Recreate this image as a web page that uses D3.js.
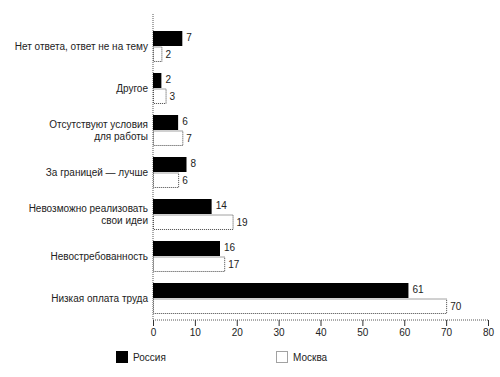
<!DOCTYPE html>
<html>
<head>
<meta charset="utf-8">
<script src="https://cdn.jsdelivr.net/npm/d3@7"></script>
<style>
  body { margin: 0; background: #fff; }
  text { font-family: "Liberation Sans", Arial, sans-serif; font-size: 10px; fill: #222; }
</style>
</head>
<body>
<div id="chart"></div>
<script>
const categories = [
    ["Нет ответа, ответ не на тему"],
    ["Другое"],
    ["Отсутствуют условия", "для работы"],
    ["За границей — лучше"],
    ["Невозможно реализовать", "свои идеи"],
    ["Невостребованность"],
    ["Низкая оплата труда"]
];
const russia = [7, 2, 6, 8, 14, 16, 61];
const moscow = [2, 3, 7, 6, 19, 17, 70];
const ticks = [0, 10, 20, 30, 40, 50, 60, 70, 80];
const seriesNames = ["Россия", "Москва"];

const width = 500, height = 377;

const svg = d3.select("#chart").append("svg")
    .attr("width", width)
    .attr("height", height);

const x = d3.scaleLinear()
    .domain([0, 80])
    .range([153, 488]);

const y = d3.scaleBand()
    .domain(categories.map((d, i) => i))
    .range([31, 314])
    .paddingInner(0.262)
    .paddingOuter(0);

const barH = y.bandwidth() / 2;

// y axis (dotted)
svg.append("line")
    .attr("x1", x(0)).attr("x2", x(0))
    .attr("y1", 14).attr("y2", 320)
    .attr("stroke", "#555")
    .attr("stroke-dasharray", "1,1");

// x axis
const axisY = 320;
svg.append("line")
    .attr("x1", x(0)).attr("x2", x(80))
    .attr("y1", axisY).attr("y2", axisY)
    .attr("stroke", "#555")
    .attr("stroke-dasharray", "1,1");

const xAxis = svg.append("g")
    .attr("transform", `translate(0,${axisY})`)
    .call(d3.axisBottom(x).tickValues(ticks).tickSize(6).tickPadding(3));
xAxis.select(".domain").remove();
xAxis.selectAll("line").attr("stroke", "#333");
xAxis.selectAll("text")
    .style("font-family", "'Liberation Sans', Arial, sans-serif")
    .style("font-size", "10px")
    .attr("fill", "#222");

// category labels
categories.forEach((lines, i) => {
    const cy = y(i) + barH;
    const t = svg.append("text")
        .attr("x", 148)
        .attr("text-anchor", "end");
    lines.forEach((l, j) => {
        t.append("tspan")
            .attr("x", 148)
            .attr("y", cy + 3.5 + (j - (lines.length - 1) / 2) * 12)
            .text(l);
    });
});

// Russia bars
svg.selectAll(".ru")
    .data(russia)
    .join("rect")
    .attr("x", x(0))
    .attr("y", (d, i) => y(i))
    .attr("width", d => x(d) - x(0))
    .attr("height", barH - 0.5)
    .attr("fill", "#000");

// Moscow bars
svg.selectAll(".mo")
    .data(moscow)
    .join("rect")
    .attr("x", x(0) + 0.5)
    .attr("y", (d, i) => y(i) + barH + 0.5)
    .attr("width", d => x(d) - x(0))
    .attr("height", barH - 1)
    .attr("fill", "#fff")
    .attr("stroke", "#444")
    .attr("stroke-dasharray", "1,1");

// value labels
svg.selectAll(".ruv")
    .data(russia)
    .join("text")
    .attr("x", d => x(d) + 4)
    .attr("y", (d, i) => y(i) + barH / 2 + 2)
    .text(d => d);

svg.selectAll(".mov")
    .data(moscow)
    .join("text")
    .attr("x", d => x(d) + 4)
    .attr("y", (d, i) => y(i) + barH * 1.5 + 4)
    .text(d => d);

// legend
const legend = [{ x: 116, fill: "#000", dash: null }, { x: 276, fill: "#fff", dash: "1,1" }];
legend.forEach((l, i) => {
    svg.append("rect")
        .attr("x", l.x + 0.5).attr("y", 351.5)
        .attr("width", 11).attr("height", 11)
        .attr("fill", l.fill)
        .attr("stroke", i === 0 ? "#000" : "#444")
        .attr("stroke-dasharray", l.dash);
    svg.append("text")
        .attr("x", l.x + 17)
        .attr("y", 361)
        .text(seriesNames[i]);
});
</script>
</body>
</html>
